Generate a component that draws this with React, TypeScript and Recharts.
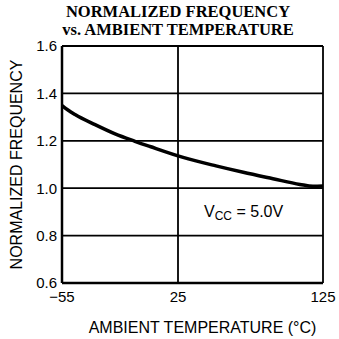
import React from "react";
import { LineChart, Line, XAxis, YAxis, CartesianGrid, Customized, Label } from "recharts";

const temperatures = [-55, -50.9, -46, -32.2, -18.4, -4.7, 5.7, 28.5, 51.2, 70, 90.5, 109.1, 118.1, 125];
const frequencies = [1.349, 1.33, 1.311, 1.268, 1.229, 1.198, 1.176, 1.13, 1.094, 1.067, 1.04, 1.016, 1.008, 1.009];
const xTicks = [-55, 25, 125];
const yTicks = [0.6, 0.8, 1.0, 1.2, 1.4, 1.6];
const titleLines = ["NORMALIZED FREQUENCY", "vs. AMBIENT TEMPERATURE"];

const data = temperatures.map((t, i) => ({ t, f: frequencies[i] }));

const Overlay = () => (
  <g>
    <text x={178} y={17} textAnchor="middle" fontFamily="Liberation Serif, Times New Roman, serif" fontWeight="bold" fontSize={16.5} fill="#000">
      {titleLines[0]}
    </text>
    <text x={178} y={35} textAnchor="middle" fontFamily="Liberation Serif, Times New Roman, serif" fontWeight="bold" fontSize={16.5} fill="#000">
      {titleLines[1]}
    </text>
    <text x={204} y={217} fontFamily="Liberation Sans, Arial, sans-serif" fontSize={16} fill="#000">
      V<tspan fontSize={12} dy={3}>CC</tspan>
      <tspan dy={-3}> = 5.0V</tspan>
    </text>
  </g>
);

export default function App() {
  const font = "Liberation Sans, Arial, sans-serif";
  return (
    <div style={{ position: "absolute", left: 0, top: 0, width: 339, height: 339, background: "#fff" }}>
      <LineChart width={339} height={339} data={data} margin={{ top: 46, right: 16, bottom: 0, left: 0 }}>
        <CartesianGrid stroke="#000" strokeWidth={1.8} strokeOpacity={1} />
        <XAxis
          dataKey="t"
          type="number"
          domain={[-55, 125]}
          ticks={xTicks}
          tickFormatter={(v: number) => (v < 0 ? `\u2212${-v}` : `${v}`)}
          tickLine={false}
          axisLine={{ stroke: "#000", strokeWidth: 2.5 }}
          height={56}
          tick={{ fill: "#000", fontSize: 15, fontFamily: font }}
        >
          <Label value="AMBIENT TEMPERATURE (°C)" position="insideBottom" offset={6} dx={10} style={{ fill: "#000", fontSize: 16, fontFamily: font }} />
        </XAxis>
        <YAxis
          type="number"
          domain={[0.6, 1.6]}
          ticks={yTicks}
          tickFormatter={(v: number) => v.toFixed(1)}
          tickLine={false}
          tickSize={5}
          tickMargin={0}
          axisLine={{ stroke: "#000", strokeWidth: 2.5 }}
          width={62}
          tick={{ fill: "#000", fontSize: 15, fontFamily: font }}
        >
          <Label value="NORMALIZED FREQUENCY" angle={-90} position="insideLeft" offset={16} style={{ textAnchor: "middle", fill: "#000", fontSize: 16, fontFamily: font }} />
        </YAxis>
        <Line type="monotone" dataKey="f" stroke="#000" strokeWidth={3.5} dot={false} isAnimationActive={false} />
        <Customized component={Overlay} />
      </LineChart>
    </div>
  );
}
